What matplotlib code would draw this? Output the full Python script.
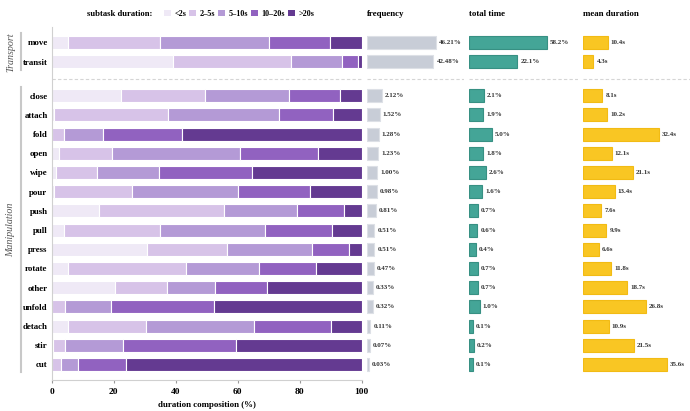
import numpy as np
import matplotlib
matplotlib.use("Agg")
import matplotlib.pyplot as plt
from matplotlib.patches import Patch

plt.rcParams['font.family'] = ['Liberation Serif', 'DejaVu Serif']
plt.rcParams['font.weight'] = 'bold'

# DATA
transport = ['move', 'transit']
manipulation = ['close', 'attach', 'fold', 'open', 'wipe', 'pour', 'push', 'pull',
                'press', 'rotate', 'other', 'unfold', 'detach', 'stir', 'cut']
bins = ['<2s', '2–5s', '5–10s', '10–20s', '>20s']

# duration composition (%) per bin, same order as transport + manipulation
lt2 = [5.1, 39.0, 22.2, 0.8, 0.0, 2.4, 1.4, 0.8, 15.3, 4.1, 30.6, 5.4, 20.4, 0.0, 5.1, 0.3, 0.0]
b2_5 = [29.8, 38.2, 27.4, 36.8, 4.1, 17.0, 13.3, 25.1, 40.3, 30.8, 26.1, 37.9, 16.9, 4.3, 25.2, 4.0, 2.9]
b5_10 = [35.2, 16.5, 27.0, 35.8, 12.5, 41.3, 20.0, 34.3, 23.6, 33.9, 27.4, 23.6, 15.5, 14.7, 35.0, 18.8, 5.7]
b10_20 = [19.6, 5.0, 16.4, 17.2, 25.3, 25.3, 29.8, 23.1, 15.1, 21.6, 11.9, 18.4, 16.5, 33.5, 24.8, 36.3, 15.3]
gt20 = [10.3, 1.3, 7.0, 9.4, 58.1, 14.0, 35.5, 16.7, 5.7, 9.6, 4.0, 14.7, 30.7, 47.5, 9.9, 40.6, 76.1]

frequency = [46.21, 42.48, 2.12, 1.52, 1.28, 1.23, 1.00, 0.98, 0.81, 0.51, 0.51, 0.47, 0.33, 0.32, 0.11, 0.07, 0.03]
total_time = [58.2, 22.1, 2.1, 1.9, 5.0, 1.8, 2.6, 1.6, 0.7, 0.6, 0.4, 0.7, 0.7, 1.0, 0.1, 0.2, 0.1]
mean_duration = [10.4, 4.3, 8.1, 10.2, 32.4, 12.1, 21.1, 13.4, 7.6, 9.9, 6.6, 11.8, 18.7, 26.8, 10.9, 21.5, 35.6]

purples = ['#efe9f6', '#d7c3e8', '#b49ad6', '#9162c0', '#643a91']

names = transport + manipulation
ypos = np.array([0, 1] + [2.78 + i for i in range(len(manipulation))])
sep_y = 1.89
ylim = (17.59, -0.80)

FS = 6.2  # base font size

W, H = 690, 411
fig = plt.figure(figsize=(W / 100, H / 100), dpi=100)


def px_axes(x0, x1, y0=27, y1=380):
    return fig.add_axes([x0 / W, 1 - y1 / H, (x1 - x0) / W, (y1 - y0) / H])


# main composition panel
ax = px_axes(51.7, 361.7)
left = np.zeros(len(names))
for vals, c in zip([lt2, b2_5, b5_10, b10_20, gt20], purples):
    ax.barh(ypos, vals, left=left, height=0.68, color=c, edgecolor='white', linewidth=0.8)
    left += np.array(vals)
ax.set_xlim(0, 100)
ax.set_ylim(*ylim)
ax.set_yticks(ypos)
ax.set_yticklabels(names, fontsize=FS + 0.2, fontweight='bold')
ax.tick_params(axis='y', length=0, pad=3)
ax.set_xticks([0, 20, 40, 60, 80, 100])
ax.tick_params(axis='x', labelsize=FS + 0.6, length=2.5, color='#999999', pad=3)
for lab in ax.get_xticklabels():
    lab.set_fontweight('bold')
ax.set_xlabel('duration composition (%)', fontsize=FS + 0.2, fontweight='bold', labelpad=4)
for s in ['top', 'right']:
    ax.spines[s].set_visible(False)
ax.spines['left'].set_color('#d0d0d0')
ax.spines['bottom'].set_color('#d0d0d0')
ax.spines['left'].set_linewidth(0.8)
ax.spines['bottom'].set_linewidth(0.8)
ax.axhline(sep_y, color='#d5d5d5', linestyle=(0, (3, 2)), linewidth=0.8)


def side_panel(x0, x1, values, xmax, color, edge, fmt, title, sqrt=True):
    a = px_axes(x0, x1)
    if sqrt:
        a.set_xscale('function', functions=(np.sqrt, np.square))
    a.barh(ypos, values, height=0.68, color=color, edgecolor=edge, linewidth=0.8)
    for y, v in zip(ypos, values):
        a.annotate(fmt(v), (v, y), xytext=(2.2, 0), textcoords='offset points',
                   va='center', ha='left', fontsize=5.0, fontweight='bold', color='#333333')
    a.set_xlim(0, xmax)
    a.set_ylim(*ylim)
    a.axhline(sep_y, color='#d5d5d5', linestyle=(0, (3, 2)), linewidth=0.8)
    a.axis('off')
    fig.text(x0 / W, 1 - 14 / H, title, fontsize=FS + 0.2, fontweight='bold', va='center', ha='left')
    return a


side_panel(367.0, 464.0, frequency, 90.6, '#c8cdd7', '#dde0e6', lambda v: f'{v:.2f}%', 'frequency')
side_panel(469.3, 578.3, total_time, 114.1, '#44a597', '#379083', lambda v: f'{v:.1f}%', 'total time')
side_panel(583.3, 690.0, mean_duration, 45.6, '#f9c623', '#f2bb14', lambda v: f'{v:.1f}s', 'mean duration',
           sqrt=False)

# legend
fig.text(87 / W, 1 - 14 / H, 'subtask duration:', fontsize=FS, fontweight='bold', va='center', ha='left')
handles = [Patch(facecolor=c, edgecolor='none', label=b) for c, b in zip(purples, bins)]
fig.legend(handles=handles, loc='center left', bbox_to_anchor=(164 / W, 1 - 14 / H), ncol=5,
           frameon=False, fontsize=FS - 0.3, handlelength=0.8, handleheight=0.65, handletextpad=0.45,
           columnspacing=0.4, borderpad=0, borderaxespad=0)

# group labels with brackets
for label, y_a, y_b, y_c in [('Transport', 33, 70, 52), ('Manipulation', 87, 372, 230)]:
    fig.add_artist(plt.Line2D([21 / W, 21 / W], [1 - y_a / H, 1 - y_b / H], color='#c8c8c8', linewidth=1.5))
    fig.text(11 / W, 1 - y_c / H, label, rotation=90, style='italic', fontweight='normal',
             fontsize=7.2, color='#555555', va='center', ha='center')

fig.savefig('out.png', dpi=100)
